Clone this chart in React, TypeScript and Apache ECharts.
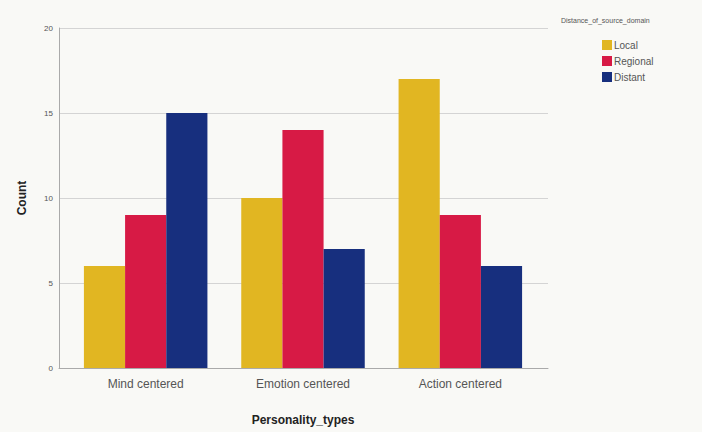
import React, { useEffect, useRef } from "react";
import * as echarts from "echarts";

const categories = ["Mind centered", "Emotion centered", "Action centered"];
const localValues = [6, 10, 17];
const regionalValues = [9, 14, 9];
const distantValues = [15, 7, 6];
const seriesNames = ["Local", "Regional", "Distant"];
const yTicks = [0, 5, 10, 15, 20];

export default function App() {
  const ref = useRef<HTMLDivElement>(null);
  useEffect(() => {
    if (!ref.current) return;
    const chart = echarts.init(ref.current, null, { renderer: "svg" });
    const colors = ["#e1b622", "#d71a45", "#172f7e"];
    const data = [localValues, regionalValues, distantValues];
    const yMin = yTicks[0];
    const yMax = yTicks[yTicks.length - 1];
    chart.setOption({
      animation: false,
      backgroundColor: "#f9f9f6",
      textStyle: { fontFamily: "Liberation Sans, Arial, sans-serif" },
      grid: [
        { left: 59, right: 154, top: 28, bottom: 64 },
        { left: 67, right: 163, top: 28, bottom: 64 },
      ],
      legend: {
        orient: "vertical",
        left: 597,
        top: 35,
        itemWidth: 10,
        itemHeight: 10,
        itemGap: 6,
        icon: "rect",
        data: seriesNames,
        textStyle: { fontSize: 10, color: "#555", padding: [0, 0, 0, -3] },
      },
      graphic: [
        {
          type: "text",
          left: 561,
          top: 17,
          style: { text: "Distance_of_source_domain", fontSize: 7, fill: "#555", fontFamily: "Liberation Sans, Arial, sans-serif" },
        },
      ],
      xAxis: [
        {
          type: "category",
          gridIndex: 0,
          data: categories,
          axisLine: { lineStyle: { color: "#aaa" } },
          axisTick: { show: false },
          axisLabel: { show: false },
        },
        {
          type: "category",
          gridIndex: 1,
          data: categories,
          name: "Personality_types",
          nameLocation: "middle",
          nameGap: 46,
          nameTextStyle: { fontSize: 12, fontWeight: "bold", color: "#222" },
          axisLine: { show: false },
          axisTick: { show: false },
          axisLabel: { fontSize: 12, color: "#555", margin: 10 },
        },
      ],
      yAxis: [
        {
          type: "value",
          gridIndex: 0,
          min: yMin,
          max: yMax,
          interval: 5,
          name: "Count",
          nameLocation: "middle",
          nameGap: 31,
          nameTextStyle: { fontSize: 12, fontWeight: "bold", color: "#222" },
          axisLine: { show: true, lineStyle: { color: "#aaa" } },
          axisTick: { show: false },
          axisLabel: { fontSize: 8, color: "#555", margin: 6 },
          splitLine: { lineStyle: { color: "#d4d4d4" } },
        },
        {
          type: "value",
          gridIndex: 1,
          min: yMin,
          max: yMax,
          interval: 5,
          axisLine: { show: false },
          axisTick: { show: false },
          axisLabel: { show: false },
          splitLine: { show: false },
        },
      ],
      series: seriesNames.map((name, i) => ({
        name,
        type: "bar",
        xAxisIndex: 1,
        yAxisIndex: 1,
        data: data[i],
        barGap: "0%",
        barCategoryGap: "21.5%",
        itemStyle: { color: colors[i] },
      })),
    });
    return () => chart.dispose();
  }, []);
  return <div ref={ref} style={{ position: "fixed", left: 0, top: 0, width: 702, height: 432 }} />;
}
